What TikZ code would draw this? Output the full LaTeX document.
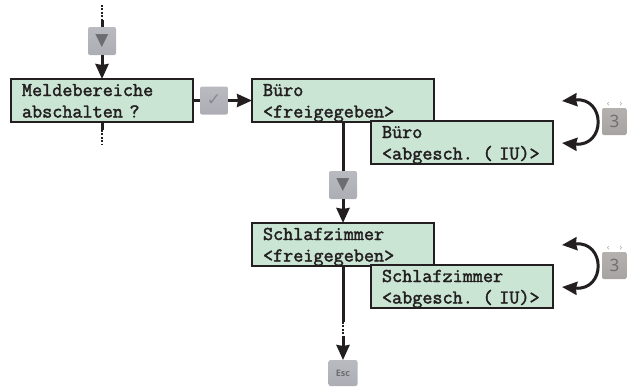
\documentclass[tikz,border=0pt]{standalone}
\usepackage{fontspec}
\newfontfamily\lcdfont{Latin Modern Mono}[FakeBold=2]
\newfontfamily\symfont{DejaVu Sans}
\newfontfamily\keyfont{Open Sans}
\usetikzlibrary{arrows.meta, positioning}

\definecolor{lcdgreen}{RGB}{202,229,212}
\definecolor{lcdline}{RGB}{35,31,32}
\definecolor{glyphgrey}{RGB}{108,109,113}
\definecolor{keygrey}{RGB}{178,179,186}
\definecolor{keywarm}{RGB}{172,168,165}

\tikzset{
    lcd/.style={draw=lcdline, line width=2.2pt, fill=lcdgreen, outer sep=0pt, inner xsep=11pt, inner ysep=0pt,
        text width=160pt, minimum height=43pt, text height=17pt, text depth=26pt, align=left, text=lcdline,
        font=\lcdfont\fontsize{19.6}{21.5}\selectfont},
    keybox/.style={rounded corners=2pt, outer sep=0pt, inner sep=0pt, minimum size=28pt, text=glyphgrey,
        top color=#1!90!white, bottom color=#1!97!black},
    keybox/.default=keygrey,
    swapkey/.style={keybox=keywarm, minimum width=25pt, minimum height=27pt, anchor=west},
    chevrons/.style={text=glyphgrey!70, inner sep=0pt, font=\keyfont\fontsize{9}{9}\selectfont},
    flow/.style={line width=3pt, color=lcdline},
    dots/.style={line width=2.6pt, color=lcdline, dash pattern=on 1.7pt off 1.7pt},
    arr/.style={flow, -{Stealth[length=15pt, width=13pt, inset=1pt]}},
    swaparr/.style={flow, {Stealth[length=15pt, width=13pt, inset=1pt]}-{Stealth[length=15pt, width=13pt, inset=1pt]}},
}

\begin{document}
\begin{tikzpicture}[x=1pt, y=1pt]
    \useasboundingbox (0,0) rectangle (627,-386);
    %
    \node [lcd] (melde) at (102,-100.5) {Meldebereiche\\abschalten ?};
    \node [keybox, above=24pt of melde] (downA) {\symfont\fontsize{17}{17}\selectfont ▼};
    \node [keybox, right=7pt of melde] (okKey) {\symfont\fontsize{17}{17}\selectfont\color{glyphgrey!80} ✓};
    \node [lcd, right=59pt of melde] (bueroFrei) {Büro\\<freigegeben>};
    \node [lcd, below right=-1pt and -63pt of bueroFrei] (bueroAbg) {Büro\\<abgesch. ( IU)>};
    \node [keybox, below=49pt of bueroFrei] (downB) {\symfont\fontsize{17}{17}\selectfont ▼};
    \node [lcd, below=24pt of downB] (schlafFrei) {Schlafzimmer\\<freigegeben>};
    \node [lcd, below right=-1pt and -63pt of schlafFrei] (schlafAbg) {Schlafzimmer\\<abgesch. ( IU)>};
    \node [swapkey] (swapA) at (602,-121.5) {\keyfont\fontsize{17}{17}\selectfont 3};
    \node [swapkey] (swapB) at (602,-265.5) {\keyfont\fontsize{17}{17}\selectfont 3};
    \node [keybox, minimum width=29pt, minimum height=26pt, anchor=north] (esc) at (343,-360) {\keyfont\bfseries\fontsize{9}{9}\selectfont Esc};
    \node [chevrons, above=1pt of swapA] (chevA) {‹\hspace{10pt}›};
    \node [chevrons, above=1pt of swapB] (chevB) {‹\hspace{10pt}›};
    %
    \coordinate (topEnd) at (102,-5);
    \coordinate (topMid) at (102,-20);
    \coordinate (lowMid) at (102,-130);
    \coordinate (lowEnd) at (102,-145);
    \coordinate (escTop) at (343,-322);
    \coordinate (escMid) at (343,-336);
    \coordinate (swapTopA) at (562,-101);
    \coordinate (swapLowA) at (562,-143);
    \coordinate (swapTopB) at (562,-245);
    \coordinate (swapLowB) at (562,-287);
    %
    \draw [dots] (topEnd) -- (topMid);
    \draw [flow] (topMid) -- (downA);
    \draw [arr] (downA) -- (melde);
    \draw [flow] (melde) -- (lowMid);
    \draw [dots] (lowMid) -- (lowEnd);
    \draw [flow] (melde) -- (okKey);
    \draw [arr] (okKey) -- (bueroFrei);
    \draw [flow] (bueroFrei) -- (downB);
    \draw [arr] (downB) -- (schlafFrei);
    \draw [flow] (schlafFrei) -- (escTop);
    \draw [dots] (escTop) -- (escMid);
    \draw [arr] (escMid) -- (esc);
    %
    \draw [swaparr] (swapTopA) to[out=5, in=-5, distance=44pt] (swapLowA);
    \draw [swaparr] (swapTopB) to[out=5, in=-5, distance=44pt] (swapLowB);
\end{tikzpicture}
\end{document}
